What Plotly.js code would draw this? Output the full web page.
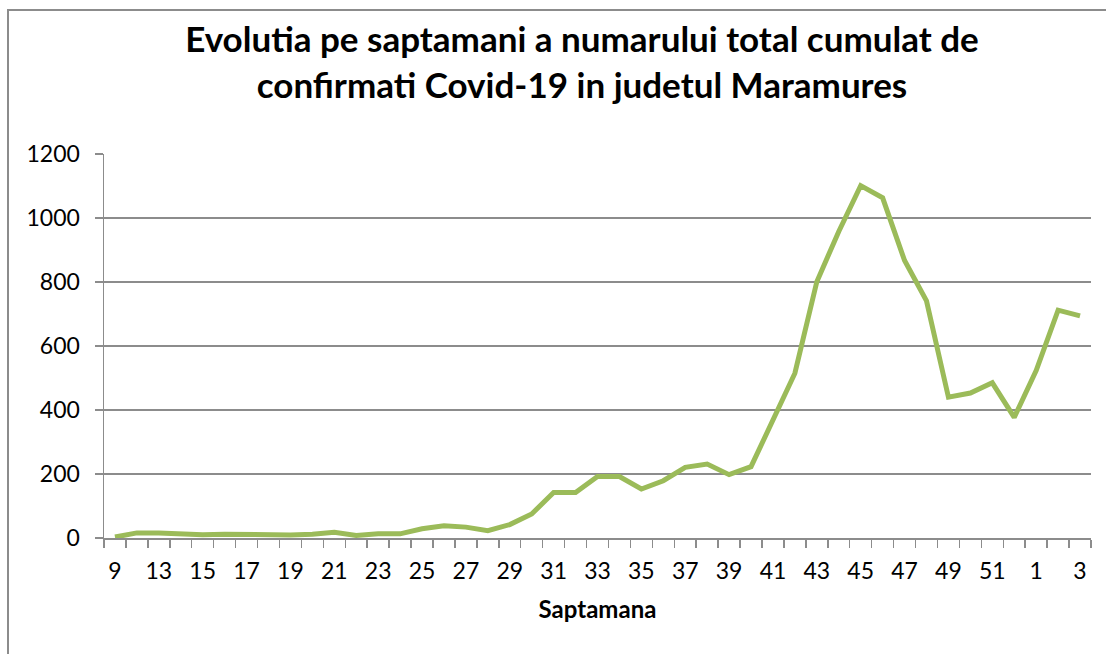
<!DOCTYPE html>
<html>
<head>
<meta charset="utf-8">
<script src="https://cdn.plot.ly/plotly-3.0.1.min.js"></script>
<style>
  html, body { margin: 0; padding: 0; background: #fff; }
  #wrap { position: relative; width: 1106px; height: 654px; overflow: hidden; }
  #chart { width: 1106px; height: 654px; }
  #frame { position: absolute; left: 7px; top: 9px; width: 1200px; height: 800px;
           border-left: 2px solid #8c8c8c; border-top: 2px solid #8c8c8c; pointer-events: none; }
</style>
</head>
<body>
<div id="wrap">
  <div id="chart"></div>
  <div id="frame"></div>
</div>
<script>
// Week labels (categories)
const weeks = ["9","12","13","14","15","16","17","18","19","20","21","22","23","24","25",
  "26","27","28","29","30","31","32","33","34","35","36","37","38","39","40",
  "41","42","43","44","45","46","47","48","49","50","51","53","1","2","3"];
// Total cumulative confirmed per week
const confirmed = [3,16,16,13,10,12,11,8,9,12,18,8,13,13,29,
  38,34,23,42,75,142,142,192,192,153,179,221,231,198,223,
  370,515,801,958,1101,1063,867,741,440,453,485,377,523,712,694];
const yTicks = [0,200,400,600,800,1000,1200];

const idx = weeks.map((w, i) => i);
const shownIdx = idx.filter(i => i % 2 === 0);
const shownText = shownIdx.map(i => weeks[i]);

const gray = '#8c8c8c';
const fontFam = 'Lato, "Open Sans", sans-serif';

const trace = {
  x: idx,
  y: confirmed,
  type: 'scatter',
  mode: 'lines',
  line: { color: '#9BBB59', width: 5 },
  hoverinfo: 'skip'
};

const layout = {
  width: 1106, height: 654,
  margin: { l: 104, r: 15, t: 154.3, b: 116.3 },
  paper_bgcolor: '#fff', plot_bgcolor: '#fff',
  showlegend: false,
  font: { family: fontFam, color: '#000' },
  title: {
    text: 'Evolutia pe saptamani a numarului total cumulat de<br>confirmati Covid-19 in judetul Maramures',
    font: { family: fontFam, size: 35, weight: 700, color: '#000' },
    x: 582 / 1106, xanchor: 'center', xref: 'container',
    y: 1 - 52 / 654, yanchor: 'middle', yref: 'container'
  },
  xaxis: {
    range: [-0.5, weeks.length - 0.5],
    tickmode: 'array', tickvals: shownIdx, ticktext: shownText,
    ticks: '', showgrid: false, zeroline: false,
    showline: true, linecolor: gray, linewidth: 1.5,
    tickfont: { family: fontFam, size: 23, color: '#000' },
    ticklabelstandoff: 12,
    minor: { tick0: -0.5, dtick: 1, ticks: 'outside', ticklen: 8, tickwidth: 1.5, tickcolor: gray, showgrid: false },
    title: { text: 'Saptamana', font: { family: fontFam, size: 24, weight: 700, color: '#000' }, standoff: 18 },
    fixedrange: true
  },
  yaxis: {
    range: [0, 1200],
    tickmode: 'array', tickvals: yTicks,
    ticks: 'outside', ticklen: 8, tickwidth: 1.5, tickcolor: gray,
    showgrid: true, gridcolor: gray, gridwidth: 1.5,
    zeroline: false, showline: true, linecolor: gray, linewidth: 1.5,
    tickfont: { family: fontFam, size: 23, color: '#000' },
    ticklabelstandoff: 10,
    fixedrange: true
  }
};

Plotly.newPlot('chart', [trace], layout, { displayModeBar: false, staticPlot: true });
</script>
</body>
</html>
